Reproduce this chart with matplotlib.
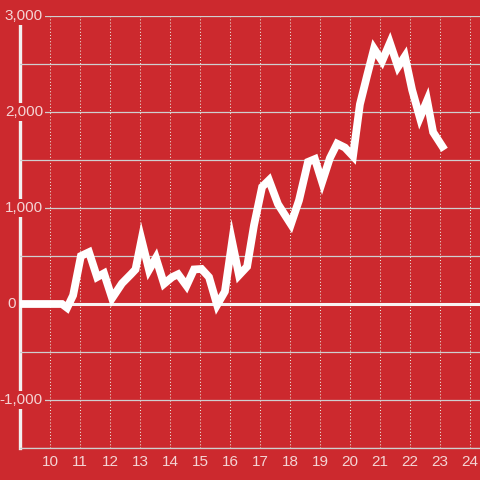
import matplotlib
matplotlib.use('Agg')
import matplotlib.pyplot as plt
from matplotlib.ticker import MultipleLocator

# hour of day and value
hours = [9.0, 10.4, 10.57, 10.77, 11.03, 11.3, 11.57, 11.8, 12.07, 12.4, 12.7, 12.85,
         13.05, 13.3, 13.53, 13.8, 14.07, 14.27, 14.55, 14.8, 15.05, 15.3, 15.57, 15.83,
         16.07, 16.3, 16.57, 16.8, 17.07, 17.3, 17.6, 18.03, 18.3, 18.6, 18.83, 19.07,
         19.33, 19.57, 19.83, 20.1, 20.33, 20.57, 20.8, 21.07, 21.33, 21.6, 21.83, 22.07,
         22.33, 22.57, 22.77, 23.08]
values = [0, 0, -40, 90, 500, 540, 280, 320, 60, 215, 310, 360,
          670, 355, 480, 210, 280, 310, 190, 360, 365, 280, -10, 130,
          650, 300, 390, 820, 1220, 1290, 1040, 830, 1080, 1480, 1510, 1270,
          1520, 1670, 1630, 1540, 2080, 2380, 2660, 2530, 2720, 2470, 2580, 2230,
          1940, 2120, 1790, 1640]
hour_ticks = list(range(10, 25))
y_ticks = [-1000, 0, 1000, 2000, 3000]
y_labels = ['-1,000', '0', '1,000', '2,000', '3,000']

bg = '#cc292e'
label_col = '#f4d4d4'

plt.rcParams['font.family'] = ['Liberation Sans', 'DejaVu Sans']

fig = plt.figure(figsize=(4.8, 4.8), dpi=100, facecolor=bg)
ax = fig.add_axes([20/480, 32/480, 460/480, 432/480])
ax.set_facecolor(bg)

ax.plot(hours, values, color='white', lw=5.6, solid_joinstyle='miter', zorder=3)
ax.axhline(0, color='#f7f2f2', lw=2.2, zorder=1.8)

ax.set_xlim(9, 24.333)
ax.set_ylim(-1500, 3000)

ax.set_xticks(hour_ticks)
ax.yaxis.set_major_locator(MultipleLocator(500))

ax.grid(axis='y', which='major', color='#cfcfcf', lw=0.9)
ax.grid(axis='x', which='major', color='#e8e4da', lw=0.75, linestyle=(0, (1, 2)))

ax.tick_params(axis='x', length=0, pad=5, labelsize=11, labelcolor=label_col)
ax.tick_params(axis='y', length=0, labelleft=False)

# y labels sit over the left axis line, with a background patch
ytr = ax.get_yaxis_transform()
for v, t in zip(y_ticks, y_labels):
    xr = -4/460 if v == 0 else 23/460
    ax.text(xr, v, t, transform=ytr, ha='right', va='center', fontsize=11,
            color=label_col, zorder=4, clip_on=False,
            bbox=dict(facecolor=bg, edgecolor='none', pad=1.5))

for s in ['top', 'right']:
    ax.spines[s].set_visible(False)
ax.spines['left'].set_color('#f2f0f0')
ax.spines['left'].set_linewidth(2.4)
ax.spines['left'].set_zorder(1)
ax.spines['bottom'].set_color('#cfcfcf')
ax.spines['bottom'].set_linewidth(0.9)

fig.savefig('out.png', dpi=100, facecolor=bg)
